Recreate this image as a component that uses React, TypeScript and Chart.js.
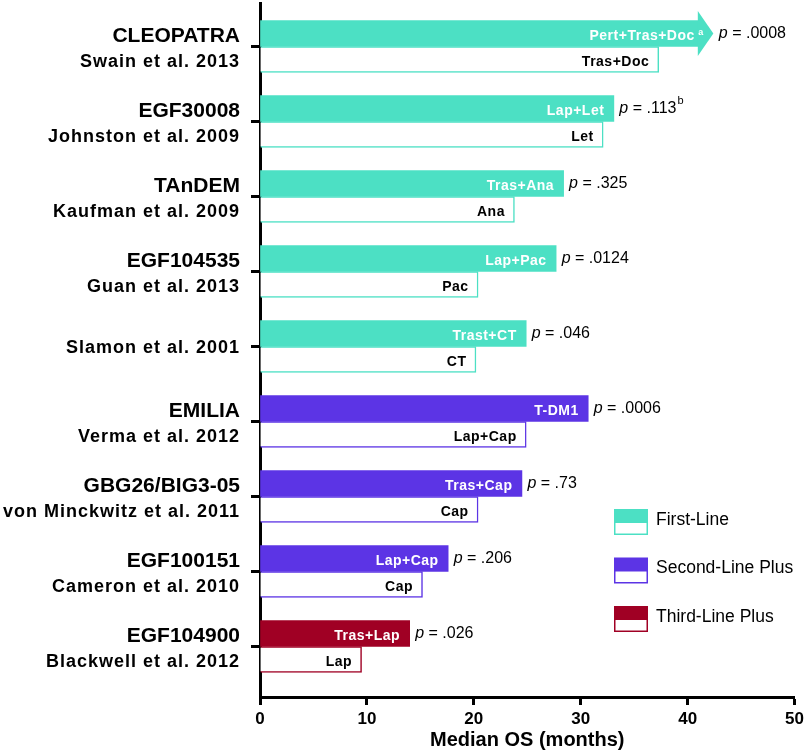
import React, { useEffect, useRef } from 'react';
import { Chart, registerables } from 'chart.js';

Chart.register(...registerables);

const FONT = '"Liberation Sans", Arial, Helvetica, sans-serif';

// ---- data ----
const trials = ['CLEOPATRA', 'EGF30008', 'TAnDEM', 'EGF104535', '', 'EMILIA', 'GBG26/BIG3-05', 'EGF100151', 'EGF104900'];
const authors = [
  'Swain et al. 2013',
  'Johnston et al. 2009',
  'Kaufman et al. 2009',
  'Guan et al. 2013',
  'Slamon et al. 2001',
  'Verma et al. 2012',
  'von Minckwitz et al. 2011',
  'Cameron et al. 2010',
  'Blackwell et al. 2012',
];
const lineOfTherapy = ['first', 'first', 'first', 'first', 'first', 'second', 'second', 'second', 'third'];
const comboLabels = ['Pert+Tras+Doc', 'Lap+Let', 'Tras+Ana', 'Lap+Pac', 'Trast+CT', 'T-DM1', 'Tras+Cap', 'Lap+Cap', 'Tras+Lap'];
const comboSup = ['a', '', '', '', '', '', '', '', ''];
const controlLabels = ['Tras+Doc', 'Let', 'Ana', 'Pac', 'CT', 'Lap+Cap', 'Cap', 'Cap', 'Lap'];
const comboOS = [41.0, 33.1, 28.4, 27.7, 24.9, 30.7, 24.5, 17.6, 14.0];
const controlOS = [37.3, 32.1, 23.8, 20.4, 20.2, 24.9, 20.4, 15.2, 9.5];
const truncated = [true, false, false, false, false, false, false, false, false];
const pValues = ['.0008', '.113', '.325', '.0124', '.046', '.0006', '.73', '.206', '.026'];
const pSup = ['', 'b', '', '', '', '', '', '', ''];
const xTicks = [0, 10, 20, 30, 40, 50];
const legendKeys = ['first', 'second', 'third'];
const legendLabels = ['First-Line', 'Second-Line Plus', 'Third-Line Plus'];

const COLORS: Record<string, string> = {
  first: '#4CE0C4',
  second: '#5C34E5',
  third: '#A00024',
};

const groupColor = (i: number) => COLORS[lineOfTherapy[i]];

export default function App() {
  const ref = useRef<HTMLCanvasElement>(null);

  useEffect(() => {
    document.body.style.margin = '0';
    const canvas = ref.current;
    if (!canvas) return;

    const setLS = (ctx: any, v: string) => {
      try { ctx.letterSpacing = v; } catch (e) { /* ignore */ }
    };

    const annot = {
      id: 'annot',
      afterDatasetsDraw(chart: any) {
        const ctx = chart.ctx as CanvasRenderingContext2D;
        const combo = chart.getDatasetMeta(0).data;
        const ctrl = chart.getDatasetMeta(1).data;
        ctx.save();

        // arrow heads for truncated bars
        combo.forEach((bar: any, i: number) => {
          if (!truncated[i]) return;
          const h = bar.height;
          ctx.fillStyle = groupColor(i);
          ctx.beginPath();
          ctx.moveTo(bar.x - 0.5, bar.y - h / 2 - 9.5);
          ctx.lineTo(bar.x + 15, bar.y);
          ctx.lineTo(bar.x - 0.5, bar.y + h / 2 + 9.5);
          ctx.closePath();
          ctx.fill();
        });

        // combo labels (white) + p values
        combo.forEach((bar: any, i: number) => {
          const end = bar.x + (truncated[i] ? 15 : 0);
          let right = end - 10;
          ctx.textAlign = 'right';
          ctx.textBaseline = 'alphabetic';
          ctx.fillStyle = '#ffffff';
          if (comboSup[i]) {
            setLS(ctx, '0px');
            ctx.font = `bold 9px ${FONT}`;
            const w = ctx.measureText(comboSup[i]).width;
            ctx.fillText(comboSup[i], right, bar.y + 1);
            right -= w + 4;
          }
          setLS(ctx, '0.5px');
          ctx.font = `bold 14px ${FONT}`;
          ctx.fillText(comboLabels[i], right + 0.5, bar.y + 6);

          // p value
          setLS(ctx, '0px');
          ctx.textAlign = 'left';
          ctx.fillStyle = '#000000';
          let px = end + 5.5;
          const by = bar.y + 4;
          ctx.font = `italic 16px ${FONT}`;
          ctx.fillText('p', px, by);
          px += ctx.measureText('p').width;
          ctx.font = `16px ${FONT}`;
          const rest = ' = ' + pValues[i];
          ctx.fillText(rest, px, by);
          px += ctx.measureText(rest).width;
          if (pSup[i]) {
            ctx.font = `11px ${FONT}`;
            ctx.fillText(pSup[i], px + 1, by - 9);
          }
        });

        // control labels (black)
        ctrl.forEach((bar: any, i: number) => {
          ctx.textAlign = 'right';
          ctx.textBaseline = 'alphabetic';
          ctx.fillStyle = '#000000';
          setLS(ctx, '0.5px');
          ctx.font = `bold 14px ${FONT}`;
          ctx.fillText(controlLabels[i], bar.x - 9.5, bar.y + 6);
        });
        setLS(ctx, '0px');
        ctx.restore();
      },
      afterDraw(chart: any) {
        const ctx = chart.ctx as CanvasRenderingContext2D;
        const yScale = chart.scales.y;
        ctx.save();
        ctx.textAlign = 'right';
        ctx.textBaseline = 'alphabetic';
        ctx.fillStyle = '#000000';
        trials.forEach((name: string, i: number) => {
          const ty = yScale.getPixelForValue(i);
          if (name) {
            setLS(ctx, '0px');
            ctx.font = `bold 21px ${FONT}`;
            ctx.fillText(name, 240, ty - 5);
            setLS(ctx, '1px');
            ctx.font = `bold 18px ${FONT}`;
            ctx.fillText(authors[i], 240, ty + 20);
          } else {
            setLS(ctx, '1px');
            ctx.font = `bold 18px ${FONT}`;
            ctx.fillText(authors[i], 240, ty + 6.5);
          }
        });
        setLS(ctx, '0px');

        // legend
        const bx = 614;
        const bw = 34;
        legendKeys.forEach((k: string, j: number) => {
          const top = 509 + j * 48.5;
          const c = COLORS[k];
          ctx.fillStyle = c;
          ctx.fillRect(bx, top, bw, 26);
          ctx.fillStyle = '#ffffff';
          ctx.fillRect(bx + 1.5, top + 14, bw - 3, 10.5);
          ctx.fillStyle = '#000000';
          ctx.textAlign = 'left';
          ctx.textBaseline = 'middle';
          ctx.font = `17.5px ${FONT}`;
          ctx.fillText(legendLabels[j], 656, top + 11);
        });
        ctx.restore();
      },
    };

    const chart = new Chart(canvas, {
      type: 'bar',
      data: {
        datasets: [
          {
            label: 'Combination',
            data: comboOS.map((v, i) => ({ x: v, y: i })),
            backgroundColor: trials.map((_, i) => groupColor(i)),
            borderWidth: 0,
            barThickness: 26,
          },
          {
            label: 'Control',
            data: controlOS.map((v, i) => ({ x: v, y: i })),
            backgroundColor: '#ffffff',
            borderColor: trials.map((_, i) => groupColor(i)),
            borderWidth: 1.5,
            borderSkipped: 'start',
            barThickness: 26,
          },
        ],
      },
      options: {
        responsive: false,
        animation: false,
        indexAxis: 'y',
        layout: { padding: { top: 3, right: 11, left: 0, bottom: 0 } },
        plugins: {
          legend: { display: false },
          tooltip: { enabled: false },
        },
        scales: {
          x: {
            type: 'linear',
            min: 0,
            max: 50,
            offset: false,
            afterBuildTicks: (s: any) => {
              s.ticks = xTicks.map((v) => ({ value: v }));
            },
            ticks: {
              color: '#000000',
              font: { family: FONT, size: 17, weight: 'bold' },
              padding: 4,
              maxRotation: 0,
            },
            grid: {
              display: true,
              offset: false,
              drawOnChartArea: false,
              drawTicks: true,
              tickLength: 8,
              tickWidth: 3,
              tickColor: '#000000',
            },
            border: { display: true, color: '#000000', width: 3 },
            title: {
              display: true,
              text: 'Median OS (months)',
              color: '#000000',
              font: { family: FONT, size: 20, weight: 'bold' },
              padding: { top: 2, bottom: 0 },
            },
            afterFit: (s: any) => {
              s.height = 55;
            },
          },
          y: {
            type: 'linear',
            reverse: true,
            min: -0.58,
            max: 8.6733,
            offset: false,
            bounds: 'data',
            afterBuildTicks: (s: any) => {
              s.ticks = trials.map((_, i) => ({ value: i }));
            },
            ticks: { display: false },
            grid: {
              display: true,
              offset: false,
              drawOnChartArea: false,
              drawTicks: true,
              tickLength: 9,
              tickWidth: 3,
              tickColor: '#000000',
            },
            border: { display: true, color: '#000000', width: 3 },
            afterFit: (s: any) => {
              s.width = 260;
            },
          },
        },
      } as any,
      plugins: [annot],
    });

    return () => {
      chart.destroy();
    };
  }, []);

  return (
    <div style={{ width: 808, height: 752, background: '#ffffff' }}>
      <canvas ref={ref} width={808} height={752} style={{ display: 'block' }} />
    </div>
  );
}
